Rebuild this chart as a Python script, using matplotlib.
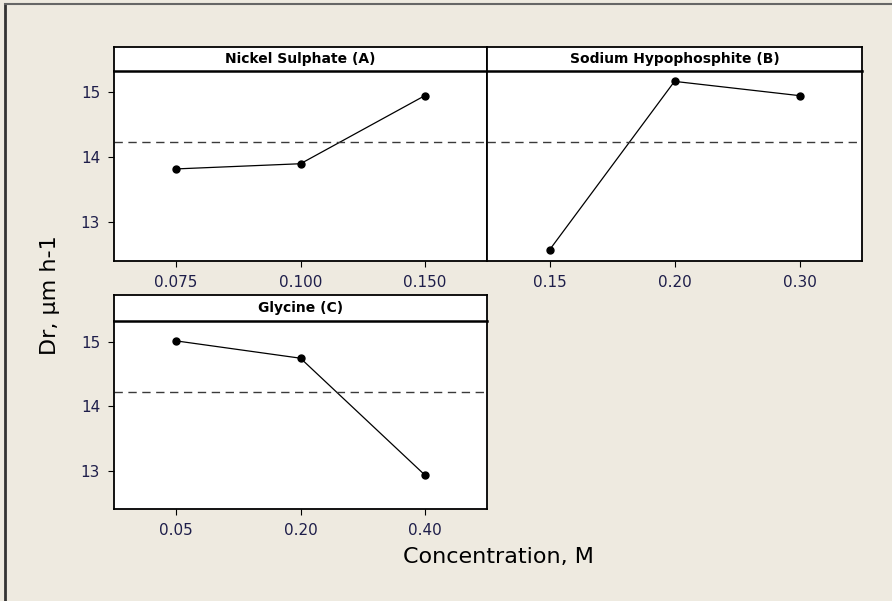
import matplotlib
matplotlib.use("Agg")
import matplotlib.pyplot as plt
from matplotlib.lines import Line2D

# Main effects for Dr (deposition rate)
titles = ["Nickel Sulphate (A)", "Sodium Hypophosphite (B)", "Glycine (C)"]
levels = [["0.075", "0.100", "0.150"],
          ["0.15", "0.20", "0.30"],
          ["0.05", "0.20", "0.40"]]
means_a = [13.82, 13.90, 14.95]
means_b = [12.57, 15.17, 14.95]
means_c = [15.02, 14.75, 12.93]
grand_mean = 14.23
yticks = [13, 14, 15]

W, H = 892, 601
bg = "#EEEAE0"
txt = "#1E1E4A"

fig = plt.figure(figsize=(W / 100, H / 100), dpi=100, facecolor=bg)


def px_axes(x0, y0, x1, y1):
    # pixel box (top-left origin) -> figure axes
    return fig.add_axes([x0 / W, (H - y1) / H, (x1 - x0) / W, (y1 - y0) / H])


def panel(box, title, labels, vals, show_y):
    x0, ys, ym, x1, yb = box
    ax = px_axes(x0, ym, x1, yb)
    ax.set_facecolor("white")
    ax.plot([1, 2, 3], vals, color="black", lw=0.9, marker="o", ms=5)
    ax.axhline(grand_mean, color="#3a3a3a", lw=1.0, ls=(0, (6, 4)))
    ax.set_xlim(0.5, 3.5)
    ax.set_ylim(12.4, 15.33)
    ax.set_xticks([1, 2, 3])
    ax.set_xticklabels(labels)
    ax.set_yticks(yticks)
    ax.tick_params(direction="out", length=4, width=0.8, labelsize=11,
                   labelcolor=txt, pad=6)
    if not show_y:
        ax.tick_params(axis="y", left=False, labelleft=False)
    ax.spines["top"].set_visible(False)
    for s in ax.spines.values():
        s.set_linewidth(1.3)

    st = px_axes(x0, ys, x1, ym)
    st.set_xticks([])
    st.set_yticks([])
    st.set_facecolor("white")
    st.text(0.5, 0.5, title, ha="center", va="center", fontsize=10,
            fontweight="bold", color="black", transform=st.transAxes)
    for s in st.spines.values():
        s.set_linewidth(1.3)
    st.spines["bottom"].set_linewidth(1.8)
    return ax


panel((114, 47, 71, 487, 261), titles[0], levels[0], means_a, True)
panel((487, 47, 71, 862, 261), titles[1], levels[1], means_b, False)
panel((114, 295, 321, 487, 509), titles[2], levels[2], means_c, True)

fig.text(50 / W, 1 - 295 / H, "Dr, µm h-1", rotation=90, ha="center",
         va="center", fontsize=16)
fig.text(498 / W, 1 - 557 / H, "Concentration, M", ha="center",
         va="center", fontsize=16)

# outer frame lines (left and top)
fig.add_artist(Line2D([5 / W, 5 / W], [0, 1 - 4 / H], color="#333333",
                      lw=2, transform=fig.transFigure))
fig.add_artist(Line2D([5 / W, 1], [1 - 4 / H, 1 - 4 / H], color="#666666",
                      lw=1.5, transform=fig.transFigure))

fig.savefig("out.png", dpi=100, facecolor=bg)
